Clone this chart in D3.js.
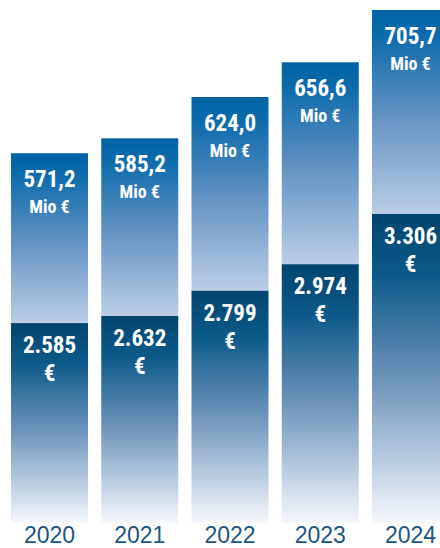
<!DOCTYPE html>
<meta charset="utf-8">
<title>Mio € / €</title>
<style>
body { margin: 0; background: #fff; }
svg { display: block; }
.val { font-family: "Liberation Sans Narrow", "Roboto Condensed", sans-serif; font-weight: bold; fill: #fff; text-anchor: middle; }
.year { font-family: "Liberation Sans Narrow", sans-serif; font-size: 23px; fill: #1b5583; text-anchor: middle; }
</style>
<svg width="440" height="548"></svg>
<script src="https://cdn.jsdelivr.net/npm/d3@7"></script>
<script>

var years = ["2020", "2021", "2022", "2023", "2024"];
var totalMio = [571.2, 585.2, 624.0, 656.6, 705.7];
var perHead = [2585, 2632, 2799, 2974, 3306];
var totalLabels = ["571,2", "585,2", "624,0", "656,6", "705,7"];
var perHeadLabels = ["2.585", "2.632", "2.799", "2.974", "3.306"];

var svg = d3.select("svg"),
    bottom = 523;

var x = d3.scaleBand()
    .domain(years)
    .range([11, 449])
    .paddingInner(0.147);

var yTop = d3.scaleLinear()
    .domain([224, 705.7])
    .range([bottom, 10]);

var yLow = d3.scaleLinear()
    .domain([1264, 3306])
    .range([bottom, 214]);

var defs = svg.append("defs");

var g1 = defs.append("linearGradient").attr("id", "upper")
    .attr("x1", 0).attr("y1", 0).attr("x2", 0).attr("y2", 1);
g1.append("stop").attr("offset", "0%").attr("stop-color", "#0062a4");
g1.append("stop").attr("offset", "12%").attr("stop-color", "#0b6aab");
g1.append("stop").attr("offset", "50%").attr("stop-color", "#5e90c2");
g1.append("stop").attr("offset", "100%").attr("stop-color", "#bccde6");

var g2 = defs.append("linearGradient").attr("id", "lower")
    .attr("x1", 0).attr("y1", 0).attr("x2", 0).attr("y2", 1);
g2.append("stop").attr("offset", "0%").attr("stop-color", "#00446f");
g2.append("stop").attr("offset", "20%").attr("stop-color", "#0d5a8a");
g2.append("stop").attr("offset", "55%").attr("stop-color", "#7196bd");
g2.append("stop").attr("offset", "100%").attr("stop-color", "#f6f8fc");

var data = years.map(function(y, i) {
  return { year: y, total: totalMio[i], head: perHead[i], tl: totalLabels[i], hl: perHeadLabels[i] };
});

var bar = svg.selectAll(".bar")
    .data(data)
  .enter().append("g")
    .attr("class", "bar")
    .attr("transform", function(d) { return "translate(" + x(d.year) + ",0)"; });

bar.append("rect")
    .attr("y", function(d) { return yTop(d.total); })
    .attr("width", x.bandwidth())
    .attr("height", function(d) { return yLow(d.head) - yTop(d.total); })
    .attr("fill", "url(#upper)");

bar.append("rect")
    .attr("y", function(d) { return yLow(d.head); })
    .attr("width", x.bandwidth())
    .attr("height", function(d) { return bottom - yLow(d.head); })
    .attr("fill", "url(#lower)");

var cx = x.bandwidth() / 2;

bar.append("text")
    .attr("class", "val")
    .attr("x", cx)
    .attr("y", function(d) { return yTop(d.total) + 34; })
    .style("font-size", "23px")
    .text(function(d) { return d.tl; });

bar.append("text")
    .attr("class", "val")
    .attr("x", cx)
    .attr("y", function(d) { return yTop(d.total) + 60; })
    .style("font-size", "18px")
    .text("Mio €");

bar.append("text")
    .attr("class", "val")
    .attr("x", cx)
    .attr("y", function(d) { return yLow(d.head) + 30; })
    .style("font-size", "23px")
    .text(function(d) { return d.hl; });

bar.append("text")
    .attr("class", "val")
    .attr("x", cx)
    .attr("y", function(d) { return yLow(d.head) + 58; })
    .style("font-size", "23px")
    .text("€");

bar.append("text")
    .attr("class", "year")
    .attr("x", cx)
    .attr("y", 543)
    .text(function(d) { return d.year; });

</script>
